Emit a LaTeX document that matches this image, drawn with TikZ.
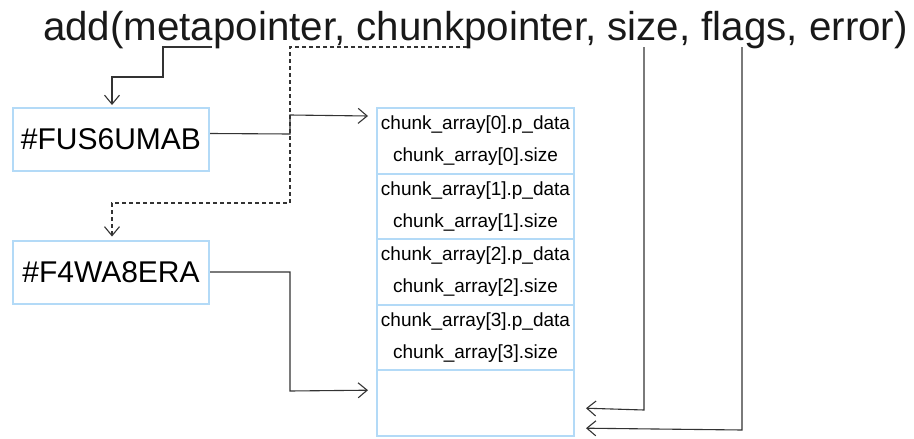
\documentclass[tikz,border=0pt]{standalone}
\usepackage{fontspec}
\setmainfont{Liberation Sans}
\usetikzlibrary{arrows.meta,positioning}
\definecolor{boxblue}{HTML}{B3DAF7}
\definecolor{wire}{HTML}{333333}
\tikzset{
  keybox/.style={draw=boxblue, line width=2pt, fill=white, minimum width=196pt, minimum height=63pt, inner sep=0pt, font=\fontsize{30}{36}\selectfont},
  cell/.style={draw=boxblue, line width=2pt, fill=white, minimum width=197pt, minimum height=65.6pt, inner sep=0pt, align=center, font=\fontsize{19}{32}\selectfont},
  wire/.style={draw=wire, line width=1.1pt, -{Straight Barb[length=9pt,width=15pt,line width=1.1pt]}}
}
\begin{document}
\begin{tikzpicture}[x=1pt, y=-1pt]
 \useasboundingbox (0,0) rectangle (914,439);
 \node[anchor=base, font=\fontsize{40.3}{48}\selectfont, text=black!90] (call) at (475.5,40) {add(metapointer, chunkpointer, size, flags, error)};
 \coordinate (metaarg) at (212,47);
 \coordinate (chunkarg) at (467,47);
 \coordinate (sizearg) at (644,47);
 \coordinate (flagsarg) at (742,47);

 \node[keybox] (fus) at (111,139.5) {\#FUS6UMAB};
 \node[keybox] (f4w) at (111,272) {\#F4WA8ERA};

 \matrix (m) [row sep=-2pt, inner sep=0pt] at (475.5,272)
  {
    \node[cell] (c0) {chunk\_array[0].p\_data\\chunk\_array[0].size}; \\
    \node[cell] (c1) {chunk\_array[1].p\_data\\chunk\_array[1].size}; \\
    \node[cell] (c2) {chunk\_array[2].p\_data\\chunk\_array[2].size}; \\
    \node[cell] (c3) {chunk\_array[3].p\_data\\chunk\_array[3].size}; \\
    \node[cell] (c4) {}; \\
  };

 \path[wire]
  (metaarg) -- (163,47) -- (163,77) -- (112,77) -- ([yshift=2pt]fus.north -| 112,0);
 \path[wire, dash pattern=on 4pt off 3pt]
  (chunkarg) -- (290,47) -- (290,203) -- (112,203) -- ([yshift=3pt]f4w.north -| 112,0);
 \path[wire]
  ([yshift=6pt]fus.east) -- (290,134) -- (290,115) -- ([shift={(-8pt,-9pt)}]c0.north west);
 \path[wire]
  (f4w.east) -- (290,272) -- (290,391) -- ([shift={(-8pt,13pt)}]c4.west);
 \path[wire]
  (sizearg) -- (644,410) -- ([shift={(11pt,-5pt)}]c4.east);
 \path[wire]
  (flagsarg) -- (742,430) -- ([shift={(11pt,-25pt)}]c4.east);
\end{tikzpicture}
\end{document}
